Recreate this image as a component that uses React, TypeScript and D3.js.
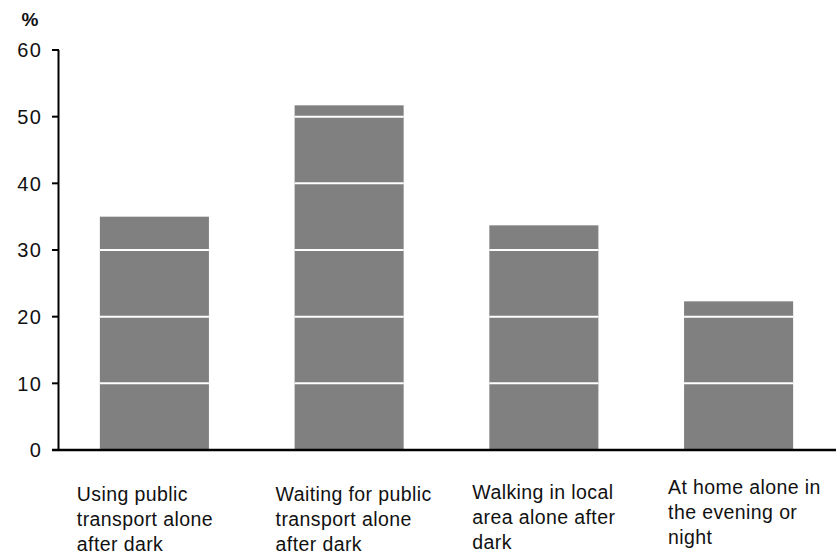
import React from "react";
import * as d3 from "d3";

const categories: string[][] = [
  ["Using public", "transport alone", "after dark"],
  ["Waiting for public", "transport alone", "after dark"],
  ["Walking in local", "area alone after", "dark"],
  ["At home alone in", "the evening or", "night"],
];
const values: number[] = [35, 51.7, 33.7, 22.3];
const yTicks: number[] = [0, 10, 20, 30, 40, 50, 60];

const labelDy: number[] = [0, 0, -2.5, -7];
const labelDx: number[] = [-23, -19, -17, -16];

const W = 836;
const H = 556;
const FONT = "'Liberation Sans', Arial, sans-serif";

export default function App() {
  const x = d3
    .scaleBand<number>()
    .domain(d3.range(values.length))
    .range([58, 835])
    .paddingInner(0.44)
    .paddingOuter(0.215);
  const y = d3.scaleLinear().domain([0, 60]).range([450, 50]);

  return (
    <svg
      width={W}
      height={H}
      style={{ position: "absolute", left: 0, top: 0, background: "#fff" }}
    >
      {values.map((v, i) => (
        <g key={i}>
          <rect
            x={x(i)!}
            y={y(v)}
            width={x.bandwidth()}
            height={y(0) - y(v)}
            fill="#808080"
          />
          {yTicks
            .filter((t) => t > 0 && t < v)
            .map((t) => (
              <line
                key={t}
                x1={x(i)!}
                x2={x(i)! + x.bandwidth()}
                y1={y(t)}
                y2={y(t)}
                stroke="#fff"
                strokeWidth={2}
              />
            ))}
        </g>
      ))}
      <line x1={58.5} x2={58.5} y1={y(60)} y2={y(0)} stroke="#000" strokeWidth={2} />
      {yTicks.map((t) => (
        <g key={t}>
          <line x1={52} x2={59} y1={y(t)} y2={y(t)} stroke="#000" strokeWidth={2} />
          <text
            x={42}
            y={y(t)}
            dy="0.36em"
            textAnchor="end"
            fontFamily={FONT}
            fontSize={20}
            letterSpacing={1.2}
            fill="#111"
          >
            {t}
          </text>
        </g>
      ))}
      <line x1={52} x2={836} y1={y(0)} y2={y(0)} stroke="#000" strokeWidth={2.5} />
      <text
        x={30}
        y={26}
        textAnchor="middle"
        fontFamily={FONT}
        fontSize={19}
        fontWeight="bold"
        fill="#111"
      >
        %
      </text>
      {categories.map((lines, i) => (
        <text
          key={i}
          x={x(i)! + labelDx[i]}
          y={501 + labelDy[i]}
          fontFamily={FONT}
          fontSize={19.5}
          letterSpacing={0.4}
          fill="#111"
        >
          {lines.map((l, j) => (
            <tspan key={j} x={x(i)! + labelDx[i]} dy={j === 0 ? 0 : 25}>
              {l}
            </tspan>
          ))}
        </text>
      ))}
    </svg>
  );
}
